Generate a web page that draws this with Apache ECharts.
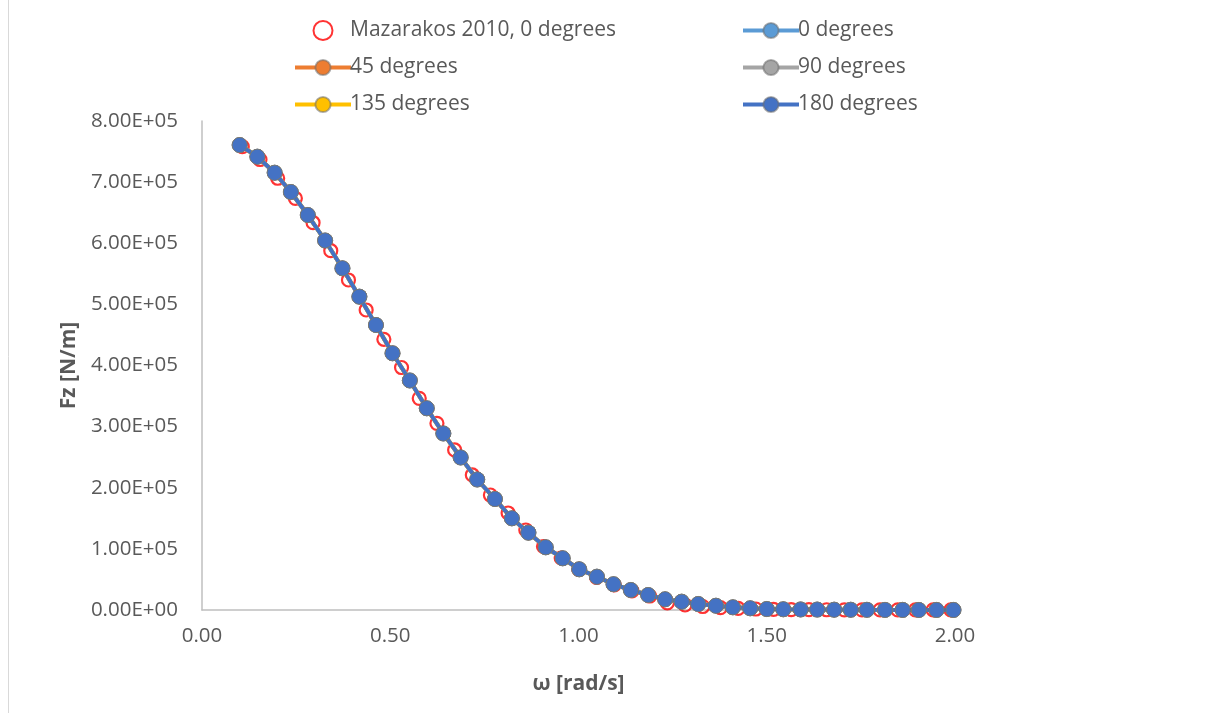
<!DOCTYPE html>
<html>
<head>
<meta charset="utf-8">
<script src="https://cdn.jsdelivr.net/npm/echarts@6/dist/echarts.min.js"></script>
<style>
  html, body { margin: 0; padding: 0; background: #fff; }
  #chart { width: 1209px; height: 713px; }
</style>
</head>
<body>
<div id="chart"></div>
<script>
// Wave frequency ω [rad/s] of the computed panel results
const omegaPanel = [0.10, 0.147, 0.193, 0.236, 0.281, 0.327, 0.373, 0.418, 0.462, 0.506, 0.552, 0.597, 0.641, 0.687, 0.731, 0.778,
  0.823, 0.867, 0.913, 0.958, 1.002, 1.049, 1.093, 1.139, 1.185, 1.230, 1.274, 1.318, 1.365, 1.410, 1.456, 1.500,
  1.544, 1.590, 1.634, 1.679, 1.723, 1.766, 1.814, 1.861, 1.904, 1.951, 1.996];

// Vertical force amplitude Fz [N/m]; the five wave headings give the same vertical force
const fz0 = [7.607e5, 7.416e5, 7.154e5, 6.838e5, 6.462e5, 6.045e5, 5.590e5, 5.126e5, 4.663e5, 4.200e5, 3.755e5, 3.300e5,
  2.888e5, 2.495e5, 2.135e5, 1.816e5, 1.500e5, 1.265e5, 1.026e5, 0.846e5, 0.666e5, 0.545e5, 0.422e5, 0.327e5,
  0.245e5, 0.175e5, 0.136e5, 0.098e5, 0.070e5, 0.044e5, 0.028e5, 0.016e5, 0.012e5, 0.009e5, 0.007e5, 0.005e5,
  0.004e5, 0.003e5, 0.002e5, 0.002e5, 0.001e5, 0.001e5, 0.001e5];
const fz45 = fz0.slice();
const fz90 = fz0.slice();
const fz135 = fz0.slice();
const fz180 = fz0.slice();

// Reference values, Mazarakos 2010, 0 degrees
const omegaRef = [0.107, 0.154, 0.201, 0.248, 0.295, 0.342, 0.389, 0.436, 0.483, 0.530, 0.577, 0.624, 0.671, 0.718,
  0.766, 0.813, 0.860, 0.907, 0.954, 1.001, 1.048, 1.095, 1.142, 1.189, 1.236, 1.283, 1.330, 1.377, 1.424, 1.471,
  1.518, 1.565, 1.612, 1.659, 1.706, 1.753, 1.801, 1.848, 1.895, 1.942, 1.989];
const fzRef = [7.58e5, 7.37e5, 7.063e5, 6.735e5, 6.336e5, 5.878e5, 5.399e5, 4.908e5, 4.429e5, 3.967e5, 3.463e5, 3.054e5,
  2.618e5, 2.209e5, 1.881e5, 1.587e5, 1.309e5, 1.039e5, 0.851e5, 0.663e5, 0.532e5, 0.409e5, 0.311e5, 0.229e5,
  0.115e5, 0.082e5, 0.057e5, 0.038e5, 0.025e5, 0.016e5, 0.010e5, 0.007e5, 0.005e5, 0.004e5, 0.003e5, 0.002e5,
  0.002e5, 0.001e5, 0.001e5, 0.001e5, 0.001e5];

const xTicks = { min: 0, max: 2, interval: 0.5 };
const yTicks = { min: 0, max: 8e5, interval: 1e5 };

const FONT = '"Open Sans"';
const TEXT = '#595959';

function pairs(xs, ys) { return xs.map((x, i) => [x, ys[i]]); }

function sci(v) {
  const [m, e] = v.toExponential(2).split('e');
  const n = Math.abs(parseInt(e, 10));
  return m + 'E' + (parseInt(e, 10) < 0 ? '-' : '+') + (n < 10 ? '0' + n : '' + n);
}

function lineSeries(name, color, data) {
  return {
    name, type: 'line', data: pairs(omegaPanel, data),
    symbol: 'circle', symbolSize: 15,
    lineStyle: { color, width: 4 },
    itemStyle: { color, borderColor: 'rgba(110,110,110,0.55)', borderWidth: 0.8 },
    emphasis: { disabled: true },
    animation: false
  };
}

const chart = echarts.init(document.getElementById('chart'), null, { renderer: 'canvas' });

const legendCommon = {
  orient: 'vertical', itemWidth: 56, itemHeight: 19, itemGap: 16,
  lineStyle: { width: 4 },
  textStyle: { fontFamily: FONT, fontSize: 21, color: TEXT, padding: [0, 0, 0, -6] },
  selectedMode: false
};

chart.setOption({
  backgroundColor: '#fff',
  animation: false,
  graphic: [{
    type: 'rect', shape: { x: 8.5, y: -5, width: 1400, height: 800 },
    style: { fill: 'none', stroke: '#D9D9D9', lineWidth: 1 }, silent: true
  }],
  legend: [
    Object.assign({ left: 288, top: 15, data: ['Mazarakos 2010, 0 degrees', '45 degrees', '135 degrees'] }, legendCommon),
    Object.assign({ left: 736, top: 15, data: ['0 degrees', '90 degrees', '180 degrees'] }, legendCommon)
  ],
  grid: { left: 202, right: 254, top: 121, bottom: 103 },
  xAxis: {
    type: 'value', min: xTicks.min, max: xTicks.max, interval: xTicks.interval,
    name: 'ω [rad/s]', nameLocation: 'middle', nameGap: 64,
    nameTextStyle: { fontFamily: FONT, fontSize: 21, fontWeight: 'bold', color: TEXT },
    axisLine: { show: true, onZero: false, lineStyle: { color: '#BFBFBF', width: 1.5 } },
    axisTick: { show: false },
    splitLine: { show: false },
    axisLabel: { fontFamily: FONT, fontSize: 20.5, color: TEXT, margin: 16, formatter: v => v.toFixed(2) }
  },
  yAxis: {
    type: 'value', min: yTicks.min, max: yTicks.max, interval: yTicks.interval,
    name: 'Fz [N/m]', nameLocation: 'middle', nameGap: 111, nameRotate: 90,
    nameTextStyle: { fontFamily: FONT, fontSize: 21, fontWeight: 'bold', color: TEXT },
    axisLine: { show: true, lineStyle: { color: '#BFBFBF', width: 1.5 } },
    axisTick: { show: false },
    splitLine: { show: false },
    axisLabel: { fontFamily: FONT, fontSize: 20.5, color: TEXT, margin: 24, formatter: sci }
  },
  series: [
    {
      name: 'Mazarakos 2010, 0 degrees', type: 'scatter', data: pairs(omegaRef, fzRef),
      symbol: 'circle', symbolSize: 13,
      itemStyle: { color: 'rgba(255,255,255,0)', borderColor: '#FF0000', borderWidth: 2.2 },
      emphasis: { disabled: true }, animation: false
    },
    lineSeries('0 degrees', '#5B9BD5', fz0),
    lineSeries('45 degrees', '#ED7D31', fz45),
    lineSeries('90 degrees', '#A5A5A5', fz90),
    lineSeries('135 degrees', '#FFC000', fz135),
    lineSeries('180 degrees', '#4472C4', fz180)
  ]
});
</script>
</body>
</html>
